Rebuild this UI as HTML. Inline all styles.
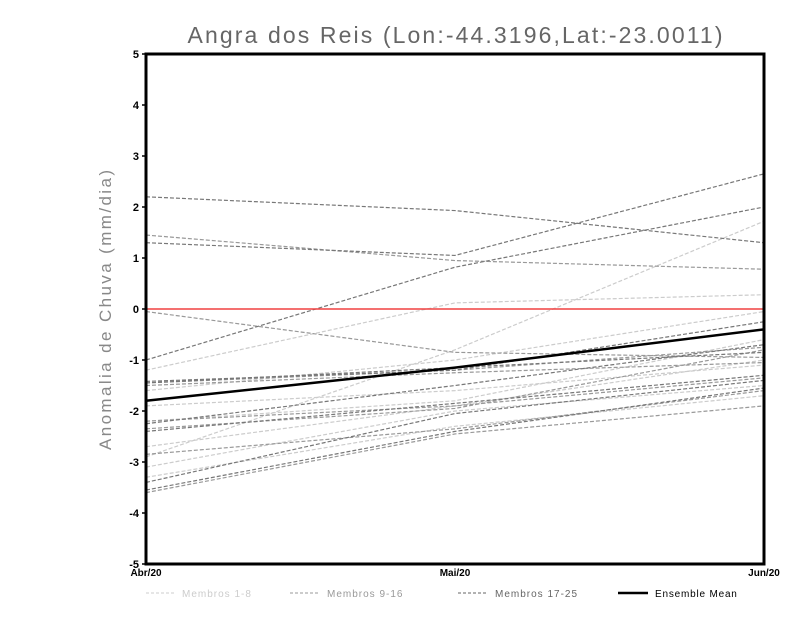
<!DOCTYPE html>
<html><head><meta charset="utf-8"><style>
html,body{margin:0;padding:0;background:#fff;}
svg{display:block;font-family:"Liberation Sans",sans-serif;}
</style></head><body>
<svg id="chart" width="800" height="618" viewBox="0 0 800 618">
<text x="455" y="43" text-anchor="middle" font-size="23" fill="#666" textLength="535" lengthAdjust="spacing">Angra dos Reis (Lon:-44.3196,Lat:-23.0011)</text>
<text transform="translate(111,310) rotate(-90)" text-anchor="middle" font-size="17" fill="#888" textLength="280" lengthAdjust="spacing">Anomalia de Chuva (mm/dia)</text>
<g id="lines"></g>
<g id="axes"></g>
<g id="legend">
<line x1="146" y1="593" x2="176" y2="593" stroke="#ccc" stroke-dasharray="3,2"/>
<text x="182" y="597" font-size="10" fill="#ccc" letter-spacing="1">Membros 1-8</text>
<line x1="290" y1="593" x2="320" y2="593" stroke="#999" stroke-dasharray="3,2"/>
<text x="327" y="597" font-size="10" fill="#999" letter-spacing="1">Membros 9-16</text>
<line x1="458" y1="593" x2="488" y2="593" stroke="#666" stroke-dasharray="3,2"/>
<text x="495" y="597" font-size="10" fill="#666" letter-spacing="1">Membros 17-25</text>
<line x1="618" y1="593" x2="648" y2="593" stroke="#000" stroke-width="2.5"/>
<text x="655" y="597" font-size="10" fill="#000" letter-spacing="0.8">Ensemble Mean</text>
</g>
</svg>
<script>
const categories = ["Abr/20","Mai/20","Jun/20"];
const yTicks = [-5,-4,-3,-2,-1,0,1,2,3,4,5];
const membersLight = [
 [-1.2,0.12,0.28],[-2.9,-0.8,1.72],[-2.7,-1.9,-1.0],[-3.1,-2.0,-1.5],
 [-3.3,-2.3,-1.7],[-1.6,-1.0,-0.05],[-1.9,-1.6,-1.1],[-2.2,-1.8,-0.6]
];
const membersMid = [
 [1.45,0.95,0.78],[-0.05,-0.85,-0.95],[-1.45,-1.2,-0.75],[-2.2,-1.9,-1.35],
 [-2.35,-1.95,-0.8],[-2.85,-2.35,-1.6],[-3.6,-2.45,-1.9],[-1.5,-1.25,-1.05]
];
const membersDark = [
 [2.2,1.93,1.3],[1.3,1.05,2.65],[-1.0,0.82,2.0],[-1.42,-1.2,-0.25],
 [-2.25,-1.5,-0.7],[-2.4,-1.85,-1.3],[-3.4,-2.05,-1.4],[-3.55,-2.4,-1.55],
 [-1.45,-1.15,-0.85]
];
const ensembleMean = [-1.8,-1.15,-0.4];
const zeroLine = [0,0,0];

const X0=146,X1=764,Y0=564,Y1=54;
const xs=i=>X0+(X1-X0)*i/(categories.length-1);
const ys=v=>Y0-(v+5)/10*(Y0-Y1);
const NS="http://www.w3.org/2000/svg";
const lines=document.getElementById('lines'), axes=document.getElementById('axes');
function poly(vals,stroke,w,dash,name){
  const p=document.createElementNS(NS,'polyline');
  p.setAttribute('points',vals.map((v,i)=>xs(i)+','+ys(v)).join(' '));
  p.setAttribute('fill','none');p.setAttribute('stroke',stroke);p.setAttribute('stroke-width',w);
  if(dash)p.setAttribute('stroke-dasharray',dash);
  
  
  lines.appendChild(p);
}
membersLight.forEach((m,i)=>poly(m,'#ccc',1.2,'4,2','member-line-'+(i+1)));
membersMid.forEach((m,i)=>poly(m,'#999',1.2,'4,2','member-line-'+(i+9)));
membersDark.forEach((m,i)=>poly(m,'#777',1.2,'4,2','member-line-'+(i+17)));
poly(zeroLine,'#f04040',1.5,null,'zero-line');
poly(ensembleMean,'#000',2.5,null,'ensemble-mean-line');

const frame=document.createElementNS(NS,'rect');
frame.setAttribute('x',X0);frame.setAttribute('y',Y1);frame.setAttribute('width',X1-X0);frame.setAttribute('height',Y0-Y1);
frame.setAttribute('fill','none');frame.setAttribute('stroke','#000');frame.setAttribute('stroke-width','3');


axes.appendChild(frame);
yTicks.forEach(t=>{
  const l=document.createElementNS(NS,'line');
  l.setAttribute('x1',X0-4);l.setAttribute('x2',X0);l.setAttribute('y1',ys(t));l.setAttribute('y2',ys(t));
  l.setAttribute('stroke','#000');l.setAttribute('stroke-width','1.5');
  
  
  axes.appendChild(l);
  const tx=document.createElementNS(NS,'text');
  tx.setAttribute('x',X0-7);tx.setAttribute('y',ys(t)+4);tx.setAttribute('text-anchor','end');
  tx.setAttribute('font-size','11');tx.setAttribute('font-weight','bold');
  tx.textContent=t;
  
  
  axes.appendChild(tx);
});
categories.forEach((c,i)=>{
  const tx=document.createElementNS(NS,'text');
  tx.setAttribute('x',xs(i));tx.setAttribute('y',Y0+12);tx.setAttribute('text-anchor','middle');
  tx.setAttribute('font-size','10');tx.setAttribute('font-weight','bold');
  tx.textContent=c;
  
  
  axes.appendChild(tx);
});
</script>
</body></html>
